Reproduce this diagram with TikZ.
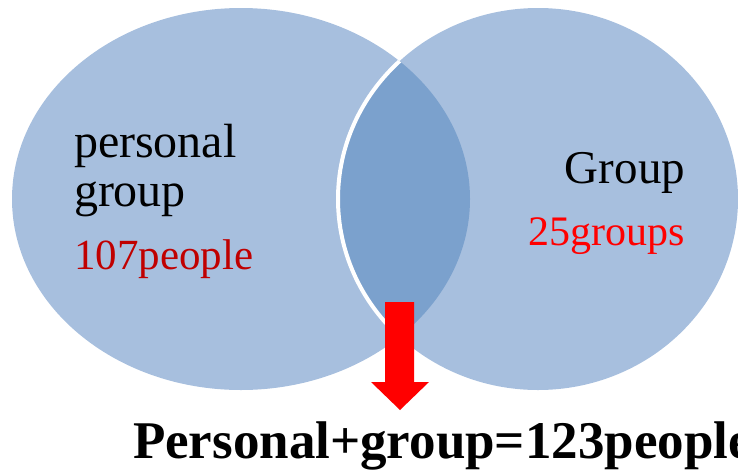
\documentclass[tikz,border=0pt]{standalone}
\usepackage{fontspec}
\setmainfont{Liberation Serif}
\definecolor{vennfill}{HTML}{A7BFDE}
\definecolor{vennlens}{HTML}{7BA1CD}
\definecolor{darkred}{HTML}{C00000}
\begin{document}
\begin{tikzpicture}[x=1pt,y=-1pt,
  vtext/.style={inner sep=0pt, outer sep=0pt},
  bigfont/.style={font=\fontsize{48}{48}\selectfont},
  numfont/.style={font=\fontsize{42}{42}\selectfont},
  totalfont/.style={font=\fontsize{53}{53}\selectfont\bfseries},
]
\useasboundingbox (0,0) rectangle (738,472);
\clip (0,0) rectangle (738,472);

% the two sets
\coordinate (pc) at (241,199);
\coordinate (gc) at (538,199);
\fill[vennfill] (pc) ellipse [x radius=229pt, y radius=191pt];
\fill[vennfill] (gc) ellipse [x radius=200pt, y radius=191pt];

% overlap, with the white rim of the right set inside the left one
\begin{scope}
  \clip (pc) ellipse [x radius=229pt, y radius=191pt];
  \fill[vennlens] (gc) ellipse [x radius=200pt, y radius=191pt];
  \draw[white, line width=4pt] (gc) ellipse [x radius=200pt, y radius=191pt];
\end{scope}

% block arrow pointing to the total
\coordinate (arrowtip) at (400,410);
\fill[red] (385,302) -- (414,302) -- (414,382) -- (429,382) -- (arrowtip)
  -- (371,382) -- (385,382) -- cycle;

% labels
\node[vtext, bigfont, anchor=base west] (personal) at (74,157) {personal};
\node[vtext, bigfont, anchor=base west] (group) at (74,206) {group};
\node[vtext, font=\fontsize{43}{43}\selectfont, anchor=base west, text=darkred] (people) at (74,269) {107people};
\node[vtext, font=\fontsize{47}{47}\selectfont, anchor=base east] (grouplbl) at (685,183) {Group};
\node[vtext, numfont, anchor=base east, text=red] (groups) at (685,245) {25groups};
\node[vtext, totalfont, anchor=base west] (total) at (133,458) {Personal+group=123people};
\end{tikzpicture}
\end{document}
